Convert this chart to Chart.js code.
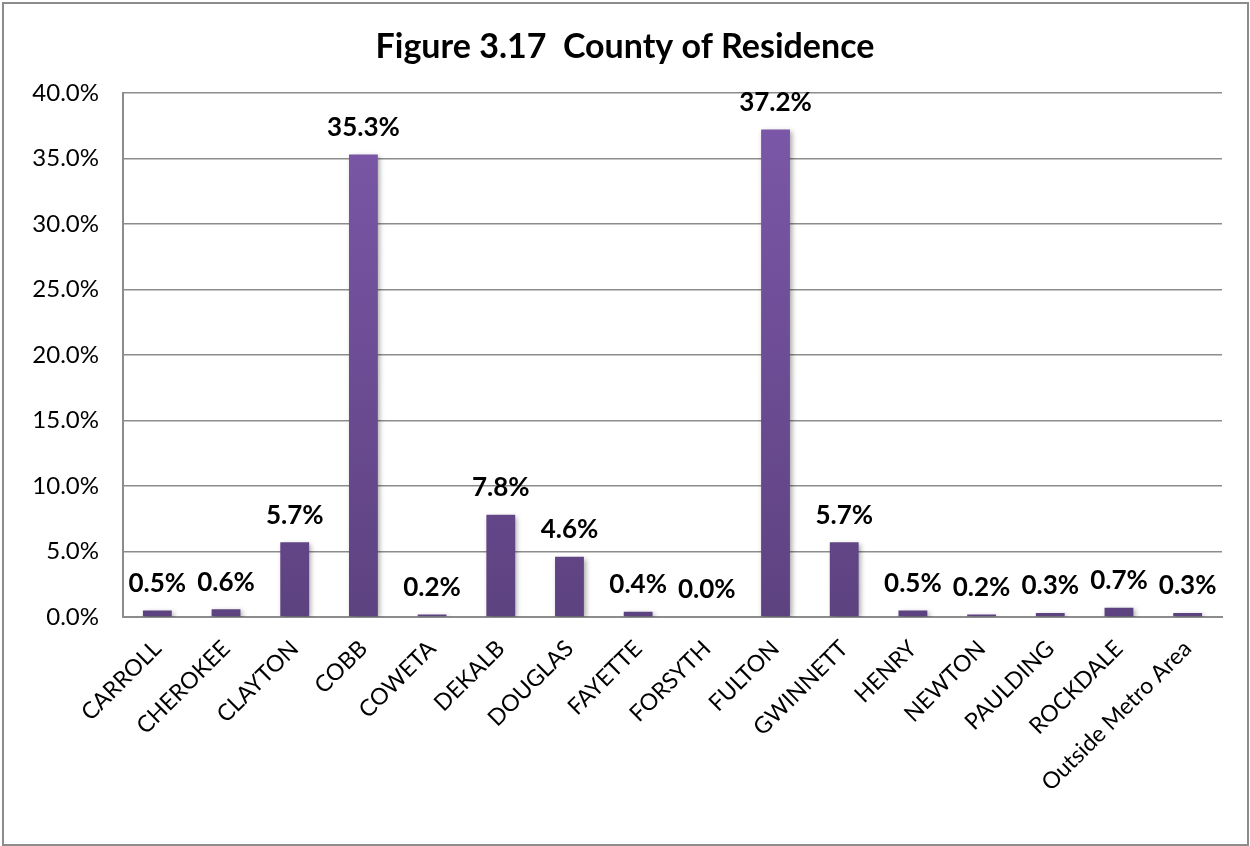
<!DOCTYPE html>
<html>
<head>
<meta charset="utf-8">
<script src="https://cdn.jsdelivr.net/npm/chart.js@4"></script>
<style>
  html, body { margin: 0; padding: 0; background: #fff; }
  #wrap { width: 1250px; height: 846px; }
</style>
</head>
<body>
<div id="wrap"><canvas id="chart"></canvas></div>
<script>
// Дані графіка
const counties = ['CARROLL', 'CHEROKEE', 'CLAYTON', 'COBB', 'COWETA', 'DEKALB', 'DOUGLAS', 'FAYETTE',
  'FORSYTH', 'FULTON', 'GWINNETT', 'HENRY', 'NEWTON', 'PAULDING', 'ROCKDALE', 'Outside Metro Area'];
const shares = [0.5, 0.6, 5.7, 35.3, 0.2, 7.8, 4.6, 0.4, 0.0, 37.2, 5.7, 0.5, 0.2, 0.3, 0.7, 0.3];
const yTicks = [0, 5, 10, 15, 20, 25, 30, 35, 40];

const FONT = 'Lato, "Open Sans", sans-serif';

// Градієнт для стовпчиків
function barGradient(context) {
  const chart = context.chart;
  const area = chart.chartArea;
  if (!area) return '#6f4f9a';
  const g = chart.ctx.createLinearGradient(0, area.top, 0, area.bottom);
  g.addColorStop(0, '#7d58aa');
  g.addColorStop(1, '#5d4280');
  return g;
}

// Рамка навколо всієї діаграми
const framePlugin = {
  id: 'frame',
  afterDraw(chart) {
    const ctx = chart.ctx;
    ctx.save();
    ctx.strokeStyle = '#8c8c8c';
    ctx.lineWidth = 2;
    ctx.strokeRect(3, 3, chart.width - 5, chart.height - 4);
    ctx.restore();
  }
};

// Тінь під стовпчиками
const shadowPlugin = {
  id: 'barShadow',
  beforeDatasetsDraw(chart) {
    const ctx = chart.ctx;
    ctx.save();
    ctx.shadowColor = 'rgba(0,0,0,0.35)';
    ctx.shadowBlur = 5;
    ctx.shadowOffsetX = 2;
    ctx.shadowOffsetY = 2;
  },
  afterDatasetsDraw(chart) {
    chart.ctx.restore();
  }
};

// Підписи значень над стовпчиками
const labelPlugin = {
  id: 'valueLabels',
  afterDatasetsDraw(chart) {
    const ctx = chart.ctx;
    const meta = chart.getDatasetMeta(0);
    ctx.save();
    ctx.font = 'bold 26px ' + FONT;
    ctx.fillStyle = '#000';
    ctx.textAlign = 'center';
    ctx.textBaseline = 'middle';
    meta.data.forEach((bar, i) => {
      ctx.fillText(shares[i].toFixed(1) + '%', bar.x, bar.y - 27);
    });
    ctx.restore();
  }
};

new Chart(document.getElementById('chart'), {
  type: 'bar',
  data: {
    labels: counties,
    datasets: [{
      data: shares,
      backgroundColor: barGradient,
      barPercentage: 1,
      categoryPercentage: 0.42
    }]
  },
  options: {
    responsive: true,
    maintainAspectRatio: false,
    animation: false,
    layout: { padding: { left: 28, right: 28, top: 0, bottom: 0 } },
    plugins: {
      legend: { display: false },
      tooltip: { enabled: false },
      title: {
        display: true,
        text: 'Figure 3.17  County of Residence',
        color: '#000',
        font: { family: FONT, size: 34, weight: 'bold' },
        padding: { top: 27, bottom: 25 }
      }
    },
    scales: {
      x: {
        afterFit(scale) { scale.height = 229; },
        grid: { display: false, drawTicks: false },
        border: { color: '#8c8c8c', width: 2 },
        ticks: {
          color: '#000',
          font: { family: FONT, size: 23 },
          minRotation: 45,
          maxRotation: 45,
          padding: 18,
          autoSkip: false
        }
      },
      y: {
        min: 0,
        max: 40,
        afterFit(scale) { scale.width = 95; },
        afterBuildTicks(scale) { scale.ticks = yTicks.map(v => ({ value: v })); },
        grid: { color: '#8c8c8c', lineWidth: 1.5, drawTicks: false },
        border: { color: '#8c8c8c', width: 2 },
        ticks: {
          color: '#000',
          font: { family: FONT, size: 24 },
          padding: 24,
          callback: v => v.toFixed(1) + '%'
        }
      }
    }
  },
  plugins: [shadowPlugin, labelPlugin, framePlugin]
});
</script>
</body>
</html>
